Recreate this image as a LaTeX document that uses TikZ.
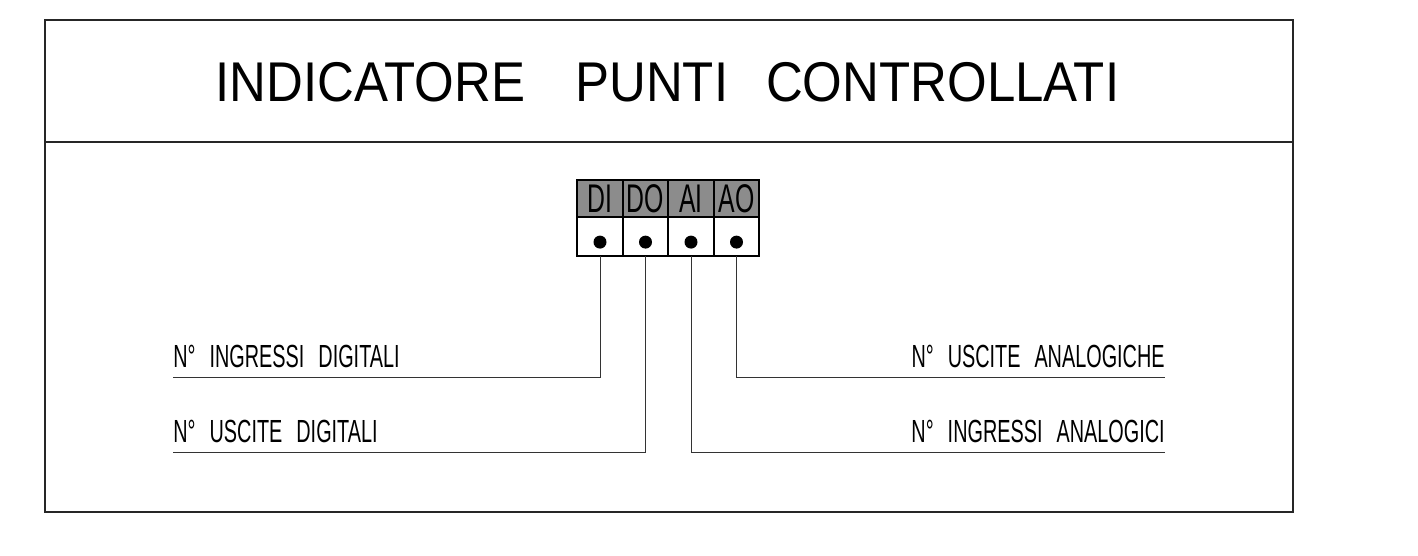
\documentclass[tikz,border=0pt]{standalone}
\usepackage{fontspec}
\setmainfont{Liberation Sans}
\newfontfamily\titlefont[FakeStretch=0.91]{Liberation Sans}
\newfontfamily\cadfont[FakeStretch=0.62]{Liberation Sans}
\usetikzlibrary{positioning}
\definecolor{hdrgray}{RGB}{140,140,140}
\newcommand{\gap}{\hspace{7pt}}

\begin{document}
\begin{tikzpicture}[x=0.5pt, y=-0.5pt,
        frame/.style={draw=black!85, line width=0.8pt},
        hdr/.style={draw, line width=1pt, fill=hdrgray, outer sep=0pt, inner sep=0pt, minimum width=22.75pt, minimum height=18.5pt, font=\cadfont\fontsize{20}{20}\selectfont},
        cell/.style={draw, line width=1pt, fill=white, outer sep=0pt, inner sep=0pt, minimum width=22.75pt, minimum height=19.5pt},
        dot/.style={circle, fill=black, inner sep=0pt, minimum size=6.5pt},
        lbl/.style={inner xsep=0pt, inner ysep=4.5pt, font=\cadfont\fontsize{16}{16}\selectfont},
        lead/.style={draw=black!80, line width=0.5pt}
    ]
    \useasboundingbox (0,0) rectangle (1418,556);

    % Frame
    \draw[frame] (45,20) rectangle (1293,512);
    \draw[frame] (45,142) -- (1293,142);
    \node[anchor=base, inner sep=0pt] (title) at (667.5,102) {\titlefont\fontsize{28}{28}\selectfont INDICATORE\hspace{25pt}PUNTI\hspace{19pt}CONTROLLATI};

    % Nodes
    \node[hdr] (di) at (600,198.5) {DI};
    \node[hdr, right=0pt of di] (do) {DO};
    \node[hdr, right=0pt of do] (ai) {AI};
    \node[hdr, right=0pt of ai] (ao) {AO};

    \node[cell, below=0pt of di] (dicell) {};
    \node[cell, below=0pt of do] (docell) {};
    \node[cell, below=0pt of ai] (aicell) {};
    \node[cell, below=0pt of ao] (aocell) {};

    \node[dot, yshift=-2.8pt] (didot) at (dicell) {};
    \node[dot, yshift=-2.8pt] (dodot) at (docell) {};
    \node[dot, yshift=-2.8pt] (aidot) at (aicell) {};
    \node[dot, yshift=-2.8pt] (aodot) at (aocell) {};

    \node[lbl, anchor=south west] (dilbl) at (173,377) {N°\gap INGRESSI\gap DIGITALI};
    \node[lbl, anchor=south west] (dolbl) at (173,452) {N°\gap USCITE\gap DIGITALI};
    \node[lbl, anchor=south east] (aolbl) at (1165,377) {N°\gap USCITE\gap ANALOGICHE};
    \node[lbl, anchor=south east] (ailbl) at (1165,452) {N°\gap INGRESSI\gap ANALOGICI};

    % Lines
    \draw[lead] (didot |- dicell.south) |- (dilbl.south west);
    \draw[lead] (dodot |- docell.south) |- (dolbl.south west);
    \draw[lead] (aodot |- aocell.south) |- (aolbl.south east);
    \draw[lead] (aidot |- aicell.south) |- (ailbl.south east);

\end{tikzpicture}
\end{document}
